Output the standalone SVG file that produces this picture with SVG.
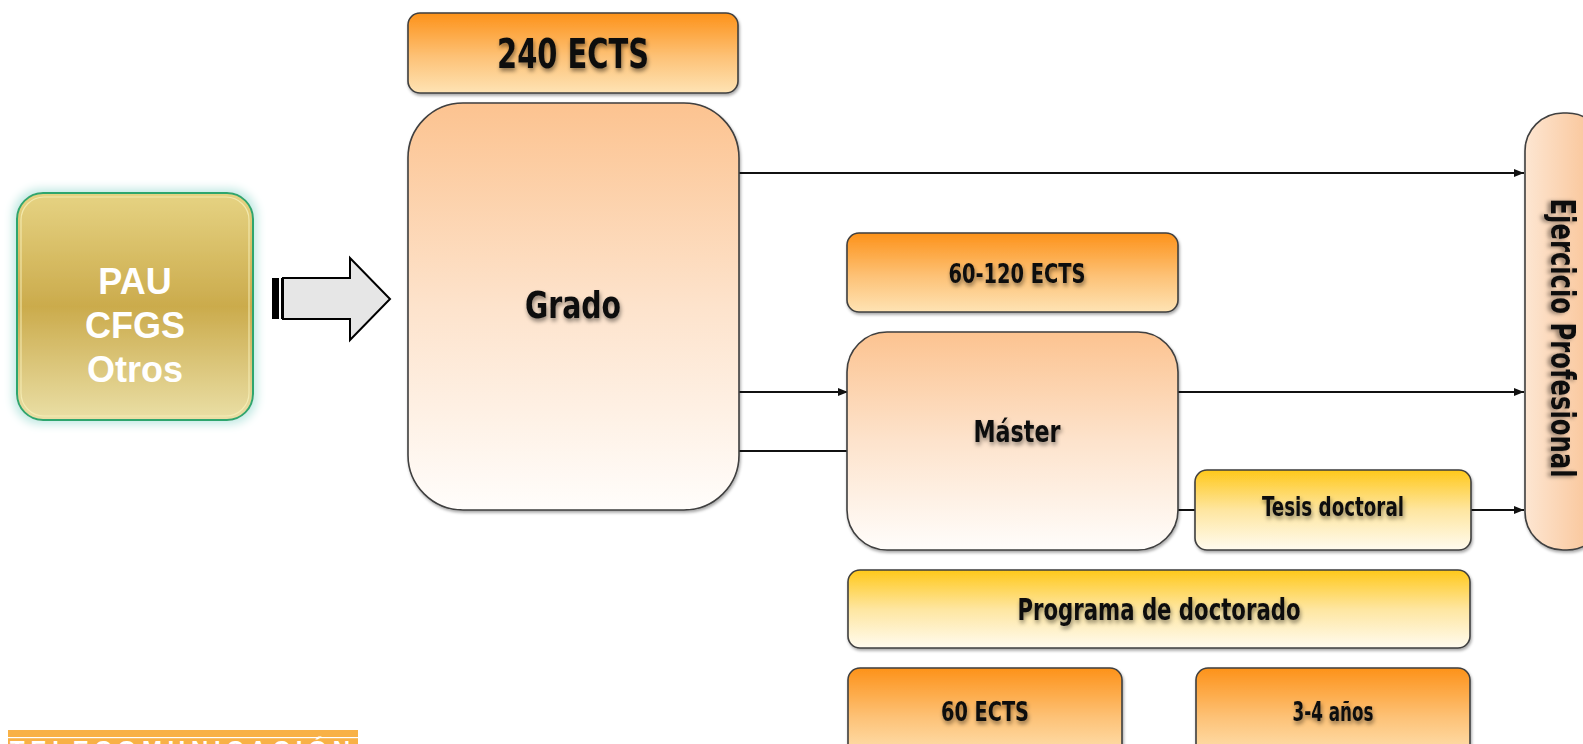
<svg xmlns="http://www.w3.org/2000/svg" width="1583" height="744" viewBox="0 0 1583 744">
<style>
.box{stroke:#3f3f3f;stroke-width:1.6;filter:url(#sh)}
.lbl{font-family:"Liberation Sans Narrow","DejaVu Sans Condensed","Liberation Sans",sans-serif;font-weight:bold;fill:#111;text-anchor:middle;filter:url(#tsh)}
.pau{font-family:"Liberation Sans",Arial,sans-serif;font-weight:bold;fill:#fff;text-anchor:middle;font-size:36px}
.con{stroke:#111;stroke-width:2;fill:none}
</style>
<defs>
<linearGradient id="gOr" x1="0" y1="0" x2="0" y2="1"><stop offset="0" stop-color="#fd9219"/><stop offset="0.55" stop-color="#fdc277"/><stop offset="1" stop-color="#fee3b4"/></linearGradient>
<linearGradient id="gPe" x1="0" y1="0" x2="0" y2="1"><stop offset="0" stop-color="#fcc390"/><stop offset="0.5" stop-color="#fde3cc"/><stop offset="1" stop-color="#fffdfb"/></linearGradient>
<linearGradient id="gYe" x1="0" y1="0" x2="0" y2="1"><stop offset="0" stop-color="#ffc81a"/><stop offset="0.5" stop-color="#fee6a0"/><stop offset="1" stop-color="#fffbef"/></linearGradient>
<linearGradient id="gEj" x1="0" y1="0" x2="1" y2="0"><stop offset="0" stop-color="#fde6d2"/><stop offset="1" stop-color="#f9bf8e"/></linearGradient>
<linearGradient id="gPau" x1="0" y1="0" x2="0" y2="1"><stop offset="0" stop-color="#e6d383"/><stop offset="0.5" stop-color="#cbab4c"/><stop offset="1" stop-color="#eadfa6"/></linearGradient>
<filter id="sh" x="-10%" y="-10%" width="120%" height="125%"><feDropShadow dx="1" dy="2" stdDeviation="1.5" flood-color="#000" flood-opacity="0.35"/></filter>
<filter id="tsh" x="-10%" y="-30%" width="120%" height="170%"><feDropShadow dx="1" dy="3" stdDeviation="2" flood-color="#000" flood-opacity="0.45"/></filter>
<filter id="glow" x="-20%" y="-20%" width="140%" height="140%"><feMorphology in="SourceAlpha" operator="dilate" radius="3" result="d"/><feGaussianBlur in="d" stdDeviation="5" result="b"/><feFlood flood-color="#bfe8e2"/><feComposite in2="b" operator="in" result="g"/><feMerge><feMergeNode in="g"/><feMergeNode in="SourceGraphic"/></feMerge></filter>
<marker id="ah" markerWidth="10" markerHeight="8" refX="10" refY="4" orient="auto" markerUnits="userSpaceOnUse"><path d="M0,0 L10,4 L0,8 Z" fill="#111"/></marker>
</defs>

<g id="pau">
<rect x="17" y="193" width="236" height="227" rx="26" fill="url(#gPau)" stroke="#2fa66e" stroke-width="2" filter="url(#glow)"/>
<rect x="21" y="197" width="228" height="219" rx="23" fill="none" stroke="#f6efb8" stroke-width="1.2" opacity="0.8"/>
<text class="pau" x="135" y="294">PAU</text>
<text class="pau" x="135" y="338">CFGS</text>
<text class="pau" x="135" y="382">Otros</text>
</g>

<g id="block-arrow">
<path d="M283,278 L350,278 L350,258 L390,299 L350,340 L350,319 L283,319 Z" fill="#e6e6e6" stroke="#000" stroke-width="2"/>
<rect x="272" y="278" width="7" height="41" fill="#000"/>
<rect x="281" y="278" width="3" height="41" fill="#000"/>
</g>

<g id="connectors">
<line class="con" x1="739" y1="173" x2="1524" y2="173" marker-end="url(#ah)"/>
<line class="con" x1="739" y1="392" x2="848" y2="392" marker-end="url(#ah)"/>
<line class="con" x1="739" y1="451" x2="848" y2="451"/>
<line class="con" x1="1178" y1="392" x2="1524" y2="392" marker-end="url(#ah)"/>
<line class="con" x1="1178" y1="510" x2="1195" y2="510"/>
<line class="con" x1="1471" y1="510" x2="1524" y2="510" marker-end="url(#ah)"/>
</g>

<g id="ects240">
<rect class="box" x="408" y="13" width="330" height="80" rx="12" fill="url(#gOr)"/>
<text class="lbl" x="573" y="68" font-size="40" textLength="152" lengthAdjust="spacingAndGlyphs">240 ECTS</text>
</g>

<g id="grado">
<rect class="box" x="408" y="103" width="331" height="407" rx="55" fill="url(#gPe)"/>
<text class="lbl" x="573" y="318" font-size="38" textLength="96" lengthAdjust="spacingAndGlyphs">Grado</text>
</g>

<g id="ects60-120">
<rect class="box" x="847" y="233" width="331" height="79" rx="12" fill="url(#gOr)"/>
<text class="lbl" x="1017" y="283" font-size="26" textLength="137" lengthAdjust="spacingAndGlyphs">60-120 ECTS</text>
</g>

<g id="master">
<rect class="box" x="847" y="332" width="331" height="218" rx="40" fill="url(#gPe)"/>
<text class="lbl" x="1017" y="442" font-size="31" textLength="87" lengthAdjust="spacingAndGlyphs">Máster</text>
</g>

<g id="tesis">
<rect class="box" x="1195" y="470" width="276" height="80" rx="12" fill="url(#gYe)"/>
<text class="lbl" x="1333" y="516" font-size="26" textLength="142" lengthAdjust="spacingAndGlyphs">Tesis doctoral</text>
</g>

<g id="ejercicio">
<rect class="box" x="1525" y="113" width="80" height="437" rx="38" fill="url(#gEj)"/>
<text class="lbl" transform="translate(1551,338) rotate(90)" font-size="33" textLength="279" lengthAdjust="spacingAndGlyphs">Ejercicio Profesional</text>
</g>

<g id="programa">
<rect class="box" x="848" y="570" width="622" height="78" rx="12" fill="url(#gYe)"/>
<text class="lbl" x="1159" y="620" font-size="30" textLength="283" lengthAdjust="spacingAndGlyphs">Programa de doctorado</text>
</g>

<g id="ects60">
<rect class="box" x="848" y="668" width="274" height="90" rx="12" fill="url(#gOr)"/>
<text class="lbl" x="985" y="721" font-size="27" textLength="88" lengthAdjust="spacingAndGlyphs">60 ECTS</text>
</g>

<g id="anos">
<rect class="box" x="1196" y="668" width="274" height="90" rx="12" fill="url(#gOr)"/>
<text class="lbl" x="1333" y="721" font-size="27" textLength="81" lengthAdjust="spacingAndGlyphs">3-4 años</text>
</g>

<g id="banner">
<rect x="8" y="730" width="350" height="14" fill="#f8b146"/>
<rect x="8" y="737" width="350" height="1.2" fill="#fff"/>
<text x="10" y="758" font-family="Liberation Sans,Arial,sans-serif" font-weight="bold" font-size="24" fill="#fff" textLength="340" lengthAdjust="spacing">TELECOMUNICACIÓN</text>
</g>
</svg>
